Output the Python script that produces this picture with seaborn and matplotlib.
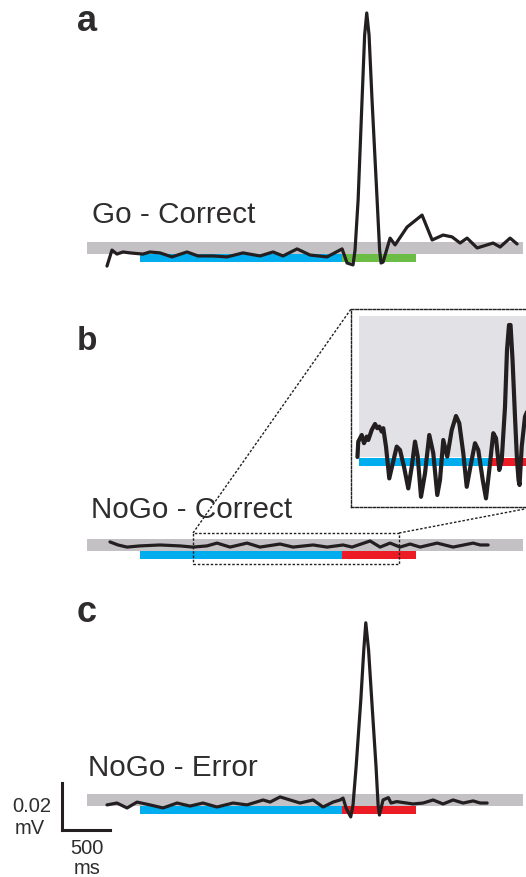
import numpy as np
import pandas as pd
import matplotlib
matplotlib.use("Agg")
import matplotlib.pyplot as plt
import seaborn as sns
from matplotlib.patches import Rectangle
from matplotlib.lines import Line2D

# ---------------- data (time in ms from cue onset, amplitude in mV) ----------------
go_correct_t = [-344, -292, -240, -177, -104, 31, 104, 208, 333, 490, 604, 761, 907,
                1073, 1250, 1386, 1490, 1636, 1771, 1949, 2105, 2157, 2219, 2240, 2272,
                2313, 2340, 2362, 2386, 2417, 2470, 2496, 2511, 2532, 2605, 2657, 2782,
                2938, 3043, 3157, 3251, 3334, 3407, 3512, 3678, 3751, 3855, 3928]
go_correct_mv = [-0.0079, -0.0011, -0.0028, -0.0019, -0.0023, -0.0028, -0.0019, -0.0023,
                 -0.0040, -0.0019, -0.0036, -0.0036, -0.0040, -0.0023, -0.0036, -0.0019,
                 -0.0036, -0.0006, -0.0032, -0.0040, -0.0006, -0.0066, -0.0074, -0.0011,
                 0.0202, 0.0628, 0.0904, 0.0998, 0.0904, 0.0628, 0.0202, -0.0011, -0.0066,
                 -0.0062, 0.0040, 0.0011, 0.0087, 0.0138, 0.0032, 0.0053, 0.0045, 0.0019,
                 0.0040, -0.0002, 0.0019, 0.0002, 0.0040, 0.0015]

nogo_correct_t = [-313, -229, -135, 0, 208, 417, 552, 698, 802, 938, 1115, 1250, 1459,
                  1594, 1803, 1949, 2115, 2209, 2397, 2501, 2605, 2709, 2813, 2918, 3095,
                  3261, 3470, 3543, 3626]
nogo_correct_mv = [0.0011, -0.0002, -0.0011, -0.0006, -0.0002, -0.0006, -0.0011, -0.0006,
                   0.0006, -0.0011, 0.0006, -0.0011, 0.0002, -0.0011, -0.0002, -0.0011,
                   -0.0002, -0.0011, 0.0015, -0.0011, 0.0006, -0.0011, 0.0002, -0.0011,
                   0.0006, -0.0011, 0.0006, -0.0002, -0.0002]

nogo_error_t = [-344, -240, -135, -31, 104, 240, 386, 521, 656, 802, 969, 1115, 1282, 1355,
                1459, 1563, 1667, 1803, 1907, 2011, 2084, 2115, 2147, 2195, 2219, 2251,
                2300, 2331, 2352, 2381, 2414, 2459, 2480, 2494, 2532, 2587, 2615, 2675,
                2709, 2845, 2949, 3053, 3157, 3261, 3366, 3470, 3543, 3616]
nogo_error_mv = [-0.0023, -0.0015, -0.0036, -0.0011, -0.0023, -0.0036, -0.0015, -0.0028,
                 -0.0015, -0.0032, -0.0015, -0.0023, -0.0002, -0.0011, 0.0011, -0.0002,
                 -0.0015, -0.0002, -0.0032, -0.0011, -0.0002, 0.0006, -0.0036, -0.0074,
                 -0.0023, 0.0138, 0.0423, 0.0636, 0.0752, 0.0636, 0.0423, 0.0138, -0.0023,
                 -0.0066, -0.0002, 0.0008, -0.0015, -0.0009, -0.0011, -0.0019, -0.0015,
                 -0.0002, -0.0019, -0.0002, -0.0015, -0.0006, -0.0015, -0.0015]

# magnified NoGo-Correct segment (inset), amplitude in µV
inset_t = [-6, 3, 41, 66, 96, 113, 151, 187, 212, 234, 261, 278, 308, 344, 382, 426, 462,
           506, 553, 591, 627, 657, 693, 737, 784, 828, 872, 902, 938, 982, 1031, 1078,
           1114, 1158, 1196, 1240, 1287, 1323, 1372, 1408, 1444, 1488, 1518, 1554, 1581,
           1617, 1639, 1661, 1678, 1700, 1727, 1749, 1766, 1777, 1801, 1837, 1892]
inset_uv = [0.0, 0.77, 1.10, 0.69, 1.02, 0.85, 1.35, 1.65, 1.44, 1.52, 1.27, 1.44, 0.52,
            -1.07, -0.32, 0.52, 0.35, -0.49, -1.57, -0.49, 0.77, 0.02, -1.99, -0.82, 1.10,
            0.19, -1.90, -1.15, 0.85, 0.02, 1.35, 2.05, 1.69, 0.19, -1.49, -0.40, 0.69,
            0.35, -1.15, -2.07, -0.65, 1.19, 0.94, -0.65, -0.15, 2.50, 5.35, 6.60, 6.60,
            4.85, 2.00, -0.15, -1.15, -1.40, 0.52, 2.02, 2.60]

# epochs (ms)
baseline_span = (-550, 3990)
pre_epoch = (0, 2105)
resp_epoch = (2105, 2875)
inset_pre = (10, 1450)
inset_resp = (1450, 2300)
zoom_window = (552, 2699)

conditions = ["Go - Correct", "NoGo - Correct", "NoGo - Error"]
panel_letters = ["a", "b", "c"]
scale_ms = 500
scale_mv = 0.02

# ---------------- styling / layout ----------------
sns.set_theme(style="white")
plt.rcParams['font.family'] = ['Liberation Sans', 'DejaVu Sans']

W, H = 526, 877
PX_MS = 48 / 500.0       # pixels per ms
PX_MV = 47 / 0.02        # pixels per mV
BLUE, GREEN, RED = "#00aeef", "#6cbd45", "#ed1c24"
GRAY, LIGHT = "#c4c1c5", "#e2e1e5"
INK = "#231f20"
TXT = "#2e2c2d"

fig = plt.figure(figsize=(W / 100, H / 100), dpi=100)
fig.patch.set_facecolor("white")
ax = fig.add_axes([0, 0, 1, 1])
ax.set_xlim(-140 / PX_MS, (W - 140) / PX_MS)
ax.set_ylim(0, H / PX_MV)
ax.axis("off")


def base(ypx):
    return (H - ypx) / PX_MV


def mvpx(p):
    return p / PX_MV


def ftxt(x, y, s, **kw):
    fig.text(x / W, 1 - y / H, s, **kw)


panels = [
    dict(t=go_correct_t, v=go_correct_mv, base=base(247.5), resp=GREEN),
    dict(t=nogo_correct_t, v=nogo_correct_mv, base=base(544.5), resp=RED),
    dict(t=nogo_error_t, v=nogo_error_mv, base=base(799.5), resp=RED),
]

for p in panels:
    b0 = p["base"]
    ax.add_patch(Rectangle((baseline_span[0], b0 - mvpx(6)), baseline_span[1] - baseline_span[0],
                           mvpx(12), color=GRAY, lw=0, zorder=1))
    ax.add_patch(Rectangle((pre_epoch[0], b0 - mvpx(14.5)), pre_epoch[1] - pre_epoch[0],
                           mvpx(8), color=BLUE, lw=0, zorder=2))
    ax.add_patch(Rectangle((resp_epoch[0], b0 - mvpx(14.5)), resp_epoch[1] - resp_epoch[0],
                           mvpx(8), color=p["resp"], lw=0, zorder=2))
    df = pd.DataFrame({"t": p["t"], "v": np.array(p["v"]) + b0})
    sns.lineplot(data=df, x="t", y="v", ax=ax, color=INK, lw=2.3, sort=False, zorder=3,
                 solid_joinstyle="round", solid_capstyle="round")

# zoom window in panel b
b0 = panels[1]["base"]
DASH = (0, (1.8, 1.3))
ax.add_patch(Rectangle((zoom_window[0], b0 - mvpx(19.5)), zoom_window[1] - zoom_window[0],
                       mvpx(31), fill=False, ec=INK, lw=1.0, ls=DASH, zorder=4))
for (x1, y1, x2, y2) in [(193, 533, 351, 309), (399, 533, 535, 507)]:
    fig.add_artist(Line2D([x1 / W, x2 / W], [1 - y1 / H, 1 - y2 / H], transform=fig.transFigure,
                          color=INK, lw=1.0, ls=DASH))

# inset
ins = fig.add_axes([351 / W, 1 - 507 / H, (535 - 351) / W, (507 - 309) / H])
ins.set_xlim(-77, 1947)
ins.set_ylim(-2.5, 7.4)
ins.set_xticks([]); ins.set_yticks([])
ins.set_facecolor("white")
for s in ins.spines.values():
    s.set_linestyle(DASH)
    s.set_color(INK)
    s.set_linewidth(1.0)
ins.add_patch(Rectangle((inset_pre[0], 0), 2400, 7.05, color=LIGHT, lw=0, zorder=1))
ins.add_patch(Rectangle((inset_pre[0], -0.45), inset_pre[1] - inset_pre[0], 0.40,
                        color=BLUE, lw=0, zorder=2))
ins.add_patch(Rectangle((inset_resp[0], -0.45), inset_resp[1] - inset_resp[0], 0.40,
                        color=RED, lw=0, zorder=2))
sns.lineplot(x=inset_t, y=inset_uv, ax=ins, color=INK, lw=3.0, sort=False, zorder=3,
             solid_joinstyle="round", solid_capstyle="round")
ins.set_xlabel(""); ins.set_ylabel("")

# scale bar
sx, sy = (62 - 140) / PX_MS, base(830)
ax.plot([sx, sx], [sy, sy + scale_mv], color=INK, lw=2.2, solid_capstyle="projecting")
ax.plot([sx, sx + scale_ms], [sy, sy], color=INK, lw=2.2, solid_capstyle="projecting")

# texts
lab_pos = [(92, 223), (91, 518), (88, 776)]
for (x, y), s in zip(lab_pos, conditions):
    ftxt(x, y, s, fontsize=21.3, color=TXT, ha="left", va="baseline")
let_pos = [(77, 31, 26), (77, 350, 24), (77, 622, 26)]
for (x, y, fs), s in zip(let_pos, panel_letters):
    ftxt(x, y, s, fontsize=fs, fontweight="bold", color=TXT, ha="left", va="baseline")

ftxt(32, 812, "0.02", fontsize=14.5, color=TXT, ha="center", va="baseline")
ftxt(30, 834, "mV", fontsize=14.5, color=TXT, ha="center", va="baseline")
ftxt(87, 854, "500", fontsize=14.5, color=TXT, ha="center", va="baseline")
ftxt(87, 874, "ms", fontsize=14.5, color=TXT, ha="center", va="baseline")

fig.savefig("out.png", dpi=100, facecolor="white")
